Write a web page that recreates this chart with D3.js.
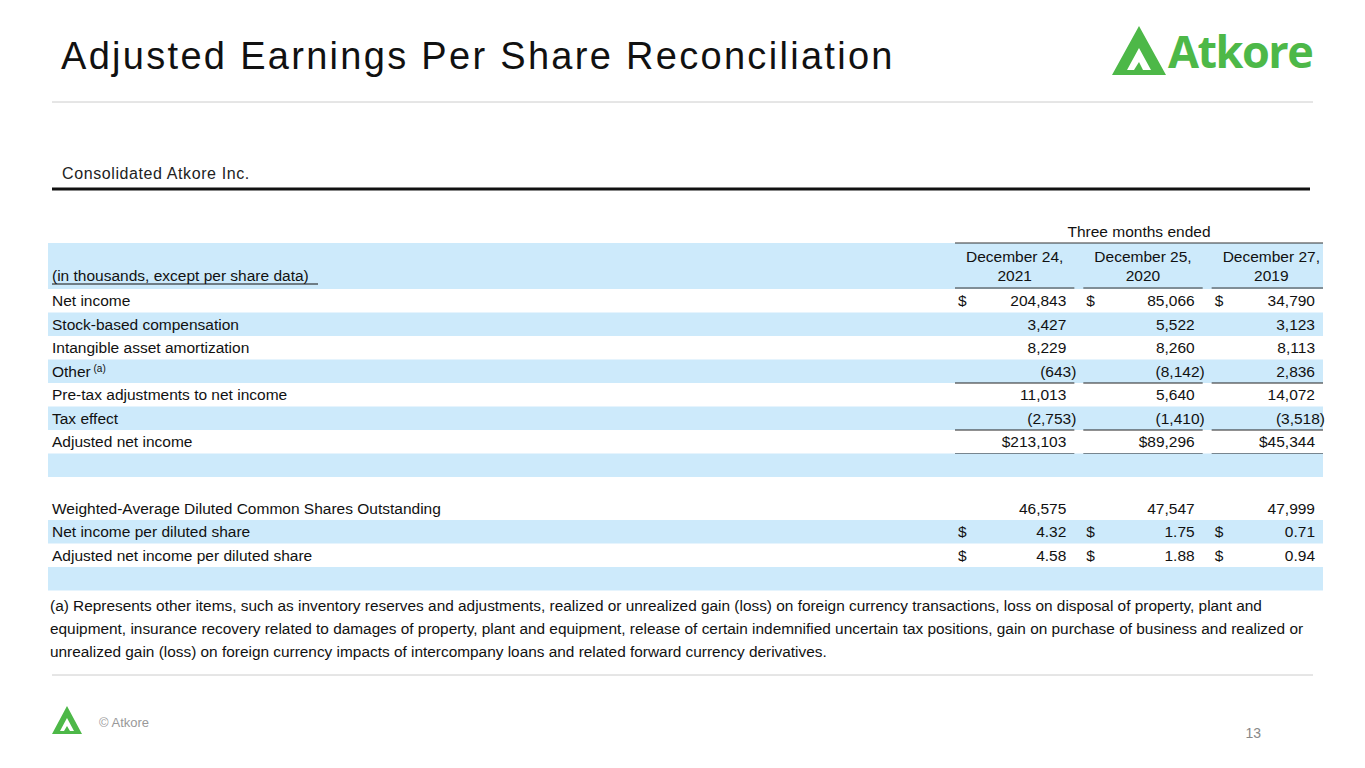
<!DOCTYPE html>
<html><head><meta charset="utf-8">
<script src="https://cdn.jsdelivr.net/npm/d3@7"></script>
<style>body{margin:0;background:#fff}</style>
</head><body>
<script>
var width = 1365, height = 768;

var columns = ["December 24,|2021", "December 25,|2020", "December 27,|2019"];
var labels = ["Net income", "Stock-based compensation", "Intangible asset amortization", "Other", "Pre-tax adjustments to net income",
	"Tax effect", "Adjusted net income", "", "Weighted-Average Diluted Common Shares Outstanding",
	"Net income per diluted share", "Adjusted net income per diluted share", ""];
var values = [
	["204,843", "85,066", "34,790"],
	["3,427", "5,522", "3,123"],
	["8,229", "8,260", "8,113"],
	["(643)", "(8,142)", "2,836"],
	["11,013", "5,640", "14,072"],
	["(2,753)", "(1,410)", "(3,518)"],
	["$213,103", "$89,296", "$45,344"],
	["", "", ""],
	["46,575", "47,547", "47,999"],
	["4.32", "1.75", "0.71"],
	["4.58", "1.88", "0.94"],
	["", "", ""]];
var dollarRows = [0, 9, 10];
var shaded = [false, true, false, true, false, true, false, true, false, true, false, true];
var rowTops = [289, 312.5, 336, 359.5, 383, 406.5, 430, 453.5, 497, 520, 544, 567];
var footnote = ["(a) Represents other items, such as inventory reserves and adjustments, realized or unrealized gain (loss) on foreign currency transactions, loss on disposal of property, plant and",
	"equipment, insurance recovery related to damages of property, plant and equipment, release of certain indemnified uncertain tax positions, gain on purchase of business and realized or",
	"unrealized gain (loss) on foreign currency impacts of intercompany loans and related forward currency derivatives."];

var green = "#4db848", shade = "#cdeafb", font = "'Liberation Sans',Arial,sans-serif";
var rowH = 23.5;

var svg = d3.select("body").append("svg").attr("width", width).attr("height", height)
	.style("font-family", "'Liberation Sans',Arial,sans-serif");

// title + logo
svg.append("text").attr("x", 61).attr("y", 69).attr("font-size", 38).attr("letter-spacing", 2.3)
	.attr("fill", "#111").text("Adjusted Earnings Per Share Reconciliation");
svg.append("path").attr("d", "M1112,75 L1139,26 L1166,75 Z M1127,70 L1139,48 L1151,70 L1143,70 L1139,62 L1134,70 Z")
	.attr("fill", green).attr("fill-rule", "evenodd");
svg.append("text").attr("x", 1168).attr("y", 68).attr("font-size", 45).attr("font-weight", "bold")
	.attr("letter-spacing", -1.5).attr("fill", green).style("font-family", "'Open Sans',sans-serif").text("Atkore");
svg.append("line").attr("x1", 52).attr("x2", 1313).attr("y1", 102).attr("y2", 102).attr("stroke", "#ccc");
svg.append("text").attr("x", 62).attr("y", 179).attr("font-size", 16).attr("letter-spacing", 0.6).attr("fill", "#222")
	.text("Consolidated Atkore Inc.");
svg.append("line").attr("x1", 52).attr("x2", 1310).attr("y1", 189).attr("y2", 189).attr("stroke", "#111").attr("stroke-width", 3);

// column scale
var x = d3.scaleBand().domain(columns).range([955, 1331]).paddingInner(0.07);
var left = 48, right = 1323;

var t = svg.append("g").style("font-family", font).attr("font-size", 15.5).attr("fill", "#111");

// header
t.append("text").attr("x", (x(columns[0]) + right) / 2).attr("y", 237).attr("text-anchor", "middle").text("Three months ended");
t.append("rect").attr("x", left).attr("y", 243).attr("width", right - left).attr("height", 46).attr("fill", shade);
t.append("line").attr("x1", x(columns[0])).attr("x2", right).attr("y1", 243).attr("y2", 243).attr("stroke", "#333");
columns.forEach(function (c) {
	var cx = x(c) + x.bandwidth() / 2;
	c.split("|").forEach(function (s, i) {
		t.append("text").attr("x", cx).attr("y", 262 + i * 19).attr("text-anchor", "middle").text(s);
	});
	t.append("line").attr("x1", x(c)).attr("x2", Math.min(x(c) + x.bandwidth(), right)).attr("y1", 288).attr("y2", 288).attr("stroke", "#333");
});
t.append("text").attr("x", 52).attr("y", 281).text("(in thousands, except per share data)");
t.append("line").attr("x1", 52).attr("x2", 318).attr("y1", 284).attr("y2", 284).attr("stroke", "#111");

// rows
labels.forEach(function (lab, r) {
	var y0 = rowTops[r];
	if (shaded[r]) t.append("rect").attr("x", left).attr("y", y0).attr("width", right - left).attr("height", rowH).attr("fill", shade);
	var lt = t.append("text").attr("x", 52).attr("y", y0 + 17).text(lab);
	if (lab === "Other") lt.append("tspan").attr("font-size", 10).attr("dy", -5).text(" (a)");
	columns.forEach(function (c, j) {
		var v = values[r][j], xr = Math.min(x(c) + x.bandwidth(), right) - 3;
		if (v.charAt(0) === "(") xr += 5;
		t.append("text").attr("x", v.charAt(v.length - 1) === ")" ? xr : xr - 5).attr("y", y0 + 17).attr("text-anchor", "end").text(v);
		if (dollarRows.indexOf(r) >= 0) t.append("text").attr("x", x(c) + 3).attr("y", y0 + 17).text("$");
		var x1 = x(c), x2 = Math.min(x(c) + x.bandwidth(), right);
		if (r === 3 || r === 5) t.append("line").attr("x1", x1).attr("x2", x2).attr("y1", y0 + rowH).attr("y2", y0 + rowH).attr("stroke", "#222");
		if (r === 6) [0, 3].forEach(function (d) {
			t.append("line").attr("x1", x1).attr("x2", x2).attr("y1", y0 + rowH + d).attr("y2", y0 + rowH + d).attr("stroke", "#222");
		});
	});
});

// footnote
footnote.forEach(function (s, i) {
	t.append("text").attr("x", 50).attr("y", 611 + i * 23).attr("font-size", 15.4).text(s);
});

svg.append("line").attr("x1", 52).attr("x2", 1313).attr("y1", 675).attr("y2", 675).attr("stroke", "#ccc");
svg.append("path").attr("d", "M52,734 L67,706 L82,734 Z M60,731 L67,718 L74,731 L70,731 L67,726 L64,731 Z")
	.attr("fill", green).attr("fill-rule", "evenodd");
svg.append("text").attr("x", 99).attr("y", 727).attr("font-size", 13).attr("fill", "#999").text("© Atkore");
svg.append("text").attr("x", 1261).attr("y", 738).attr("font-size", 14).attr("text-anchor", "end").attr("fill", "#888").text("13");
</script>
</body></html>
